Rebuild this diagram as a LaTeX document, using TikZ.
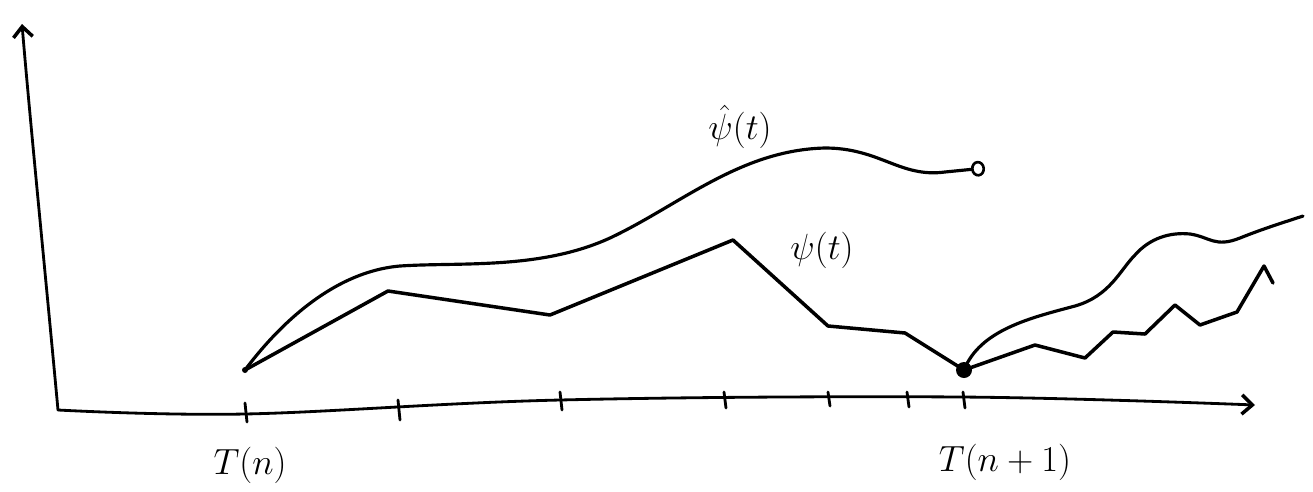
\documentclass[tikz,border=0pt]{standalone}
\usetikzlibrary{arrows.meta}
\begin{document}
\begin{tikzpicture}[x=0.02cm, y=-0.02cm,
    axisline/.style={line width=1.6pt, line cap=round, -{Straight Barb[length=6pt, width=11pt, line width=2pt]}},
    tickmark/.style={line width=1.6pt, line cap=round},
    pathline/.style={line width=2pt, line join=round, line cap=round},
    estline/.style={line width=1.8pt, line cap=round},
    handlabel/.style={font=\huge, inner sep=1pt},
]
    \useasboundingbox (0,0) rectangle (1313,491);

    % axes
    \coordinate (orig) at (58,410);
    \coordinate (ytop) at (22,24);
    \coordinate (xend) at (1255,405);
    \draw[axisline] (orig) .. controls (46,280) and (30,120) .. (ytop);
    \draw[axisline] plot[smooth, tension=0.6] coordinates
        {(orig) (245,414) (560,400) (960,397) (xend)};

    % grid times
    \foreach \x/\ya/\yb in {245/403/422, 398/400/420, 560/392/410, 724/392/408,
                            828/392/406, 907/392/407, 963/392/408}
        \draw[tickmark] (\x,\ya) -- (\x+2,\yb);

    \node[handlabel] (tn)  at (250,465)  {$T(n)$};
    \node[handlabel] (tn1) at (1005,462) {$T(n+1)$};

    % sampled path
    \coordinate (start) at (245,370);
    \coordinate (hit) at (964,370);
    \draw[pathline] (start) -- (388,291) -- (550,315) -- (733,240) -- (828,326)
        -- (905,333) -- (hit);
    \draw[pathline] (hit) -- (1035,345) -- (1085,358) -- (1113,332) -- (1145,334)
        -- (1175,305) -- (1200,325) -- (1237,312) -- (1264,266) -- (1273,283);
    \fill (hit) circle (8);
    \fill (start) circle (3);

    % estimate
    \draw[estline, -{Circle[open, length=8pt, width=9pt, line width=1.5pt]}]
        (start) .. controls (275,330) and (330,272) .. (400,266)
        .. controls (460,262) and (540,270) .. (610,238)
        .. controls (680,205) and (740,150) .. (825,148)
        .. controls (880,148) and (900,178) .. (945,172)
        -- (985,168);
    \draw[estline] (hit) .. controls (980,330) and (1030,318) .. (1075,306)
        .. controls (1110,296) and (1120,270) .. (1135,255)
        .. controls (1150,238) and (1170,232) .. (1190,234)
        .. controls (1210,237) and (1215,248) .. (1240,238)
        .. controls (1265,228) and (1285,222) .. (1303,216);

    \node[handlabel] (psihat) at (740,127) {$\hat{\psi}(t)$};
    \node[handlabel] (psi)    at (822,250) {$\psi(t)$};
\end{tikzpicture}
\end{document}
